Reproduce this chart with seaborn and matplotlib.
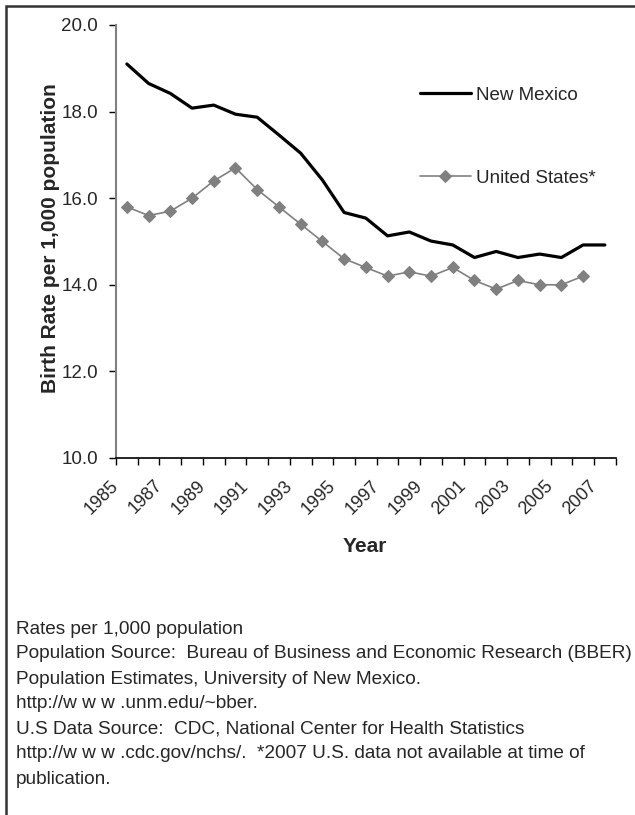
import matplotlib
matplotlib.use("Agg")
import matplotlib.pyplot as plt
import matplotlib.patches as mpatches
import matplotlib.transforms as mtransforms
import seaborn as sns
import pandas as pd
import numpy as np

years = list(range(1985, 2008))
new_mexico = [19.1, 18.65, 18.42, 18.08, 18.15, 17.94, 17.87, 17.46, 17.04, 16.42,
              15.67, 15.54, 15.13, 15.22, 15.01, 14.92, 14.63, 14.77, 14.63, 14.71,
              14.63, 14.92, 14.92]
united_states = [15.8, 15.6, 15.7, 16.0, 16.4, 16.7, 16.2, 15.8, 15.4, 15.0,
                 14.6, 14.4, 14.2, 14.3, 14.2, 14.4, 14.1, 13.9, 14.1, 14.0,
                 14.0, 14.2, np.nan]
y_ticks = [10.0, 12.0, 14.0, 16.0, 18.0, 20.0]
notes = [
    "Rates per 1,000 population",
    "Population Source:  Bureau of Business and Economic Research (BBER)",
    "Population Estimates, University of New Mexico.",
    "http://w w w .unm.edu/~bber.",
    "U.S Data Source:  CDC, National Center for Health Statistics",
    "http://w w w .cdc.gov/nchs/.  *2007 U.S. data not available at time of",
    "publication.",
]

sns.set_style("white")
plt.rcParams['font.family'] = ['Liberation Sans', 'DejaVu Sans']

W, H = 635, 815
fig = plt.figure(figsize=(W / 100, H / 100), dpi=100)
ax_w = 615.7 - 116
ax = fig.add_axes([116 / W, 1 - 458 / H, ax_w / W, (458 - 25) / H])

idx = np.arange(len(years))
df = pd.DataFrame({"idx": idx, "nm": new_mexico, "us": united_states})

sns.lineplot(data=df, x="idx", y="nm", ax=ax, color="black", linewidth=2.3,
             label="New Mexico")
sns.lineplot(data=df.dropna(), x="idx", y="us", ax=ax, color="#808080", linewidth=1.2,
             marker="D", markersize=6, markeredgecolor="#808080",
             markerfacecolor="#808080", label="United States*")

ax.set_yticks(y_ticks)
ax.set_yticklabels([f"{v:.1f}" for v in y_ticks], fontsize=13.5)

# tick marks at category boundaries
bounds = np.arange(len(years) + 1) - 0.5
ax.set_xticks(bounds)
ax.set_xticklabels([])
ax.set_xlim(-0.5, len(years) - 0.5)
ax.set_ylim(y_ticks[0], y_ticks[-1])

# year labels for every other category, anchored at the category's left boundary
lab_tr = ax.get_xaxis_transform() + mtransforms.ScaledTranslation(-6 / 100, -19 / 100,
                                                                   fig.dpi_scale_trans)
for k in range(0, len(years), 2):
    ax.text(k - 0.5, 0, str(years[k]), transform=lab_tr, fontsize=13, rotation=45,
            ha="right", va="top", rotation_mode="anchor")

ax.tick_params(axis="x", bottom=True, direction="out", length=5, width=1, color="black")
ax.tick_params(axis="y", left=True, direction="out", length=5, width=1,
               color="black", pad=8)

for s in ["top", "right"]:
    ax.spines[s].set_visible(False)
ax.spines["left"].set_color("#808080")
ax.spines["left"].set_linewidth(1.5)
ax.spines["bottom"].set_color("black")
ax.spines["bottom"].set_linewidth(1.2)

ax.set_ylabel("Birth Rate per 1,000 population", fontsize=15, fontweight="bold")
ax.yaxis.set_label_coords((51 - 116) / ax_w, (458 - 238) / 433)
ax.yaxis.label.set_va("center")
ax.set_xlabel("Year", fontsize=15, fontweight="bold")
ax.xaxis.set_label_coords((365 - 116) / ax_w, (458 - 537) / 433)
ax.xaxis.label.set_va("top")

leg = ax.legend(frameon=False, fontsize=13.5, labelspacing=3.5, handlelength=2.7,
                handletextpad=0.3, loc="upper left",
                bbox_to_anchor=((403 - 116) / ax_w, (458 - 70) / 433))

for i, line in enumerate(notes):
    fig.text(16 / W, 1 - (629 + 25 * i) / H, line, fontsize=13.7, va="center", ha="left")

border = mpatches.Rectangle((6 / W, -0.1), 1.2, 1 - 6 / H + 0.1, transform=fig.transFigure,
                            fill=False, edgecolor="#333333", linewidth=1.8)
fig.patches.append(border)

fig.savefig("out.png", dpi=100)
